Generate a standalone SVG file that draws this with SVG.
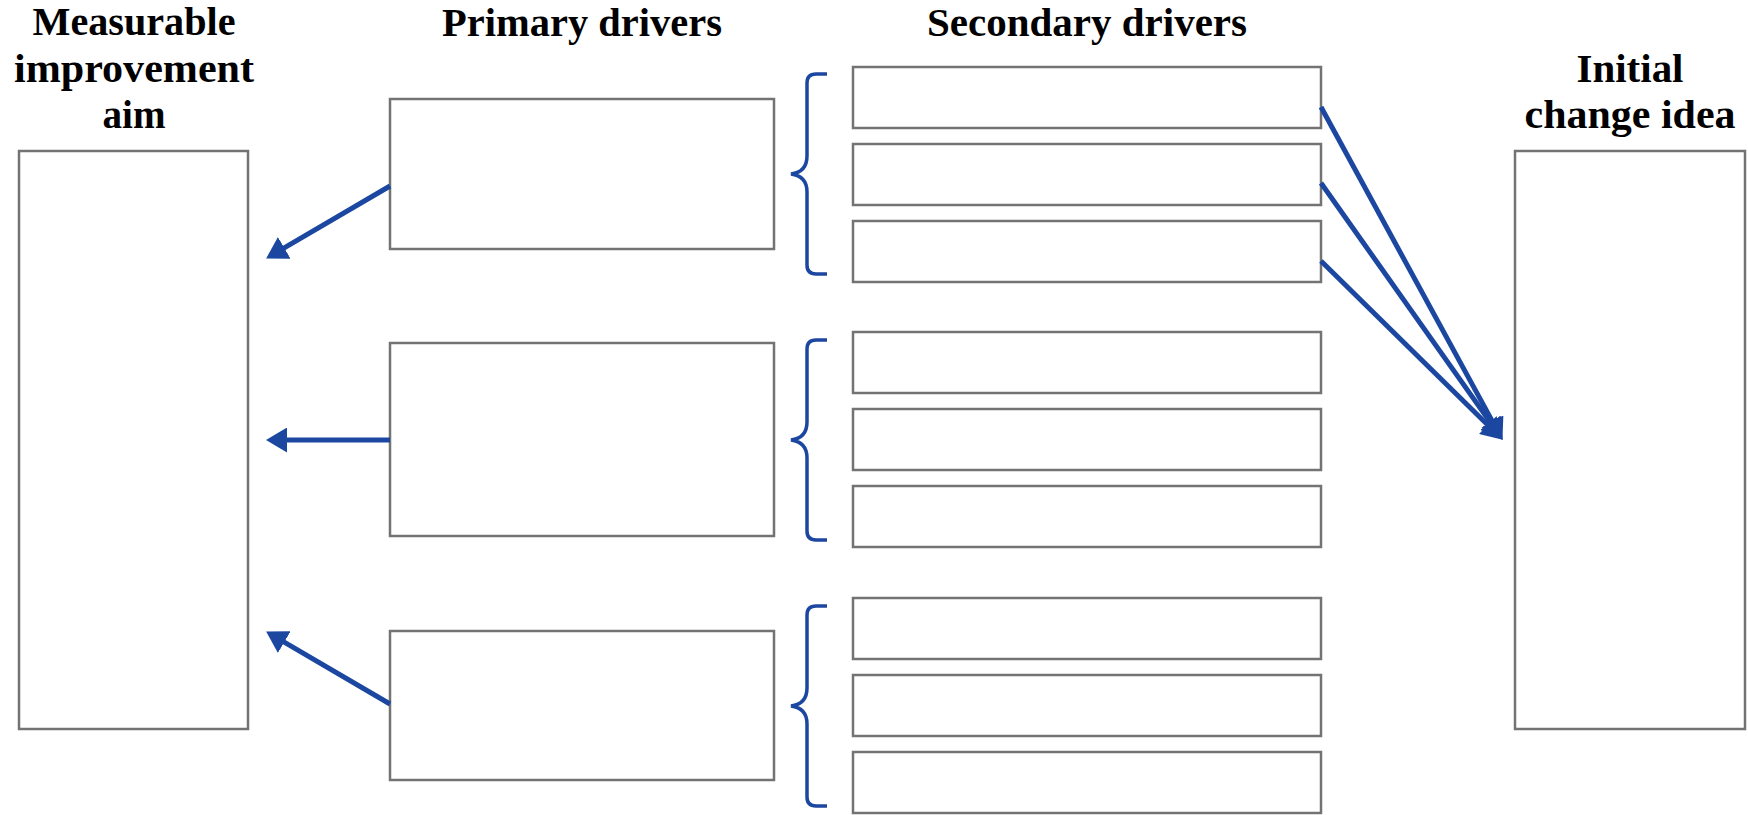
<svg xmlns="http://www.w3.org/2000/svg" width="1748" height="815" viewBox="0 0 1748 815">
<style>
.box{fill:#fff;stroke:#737373;stroke-width:2.5}
.hd{font-family:"Liberation Serif","Times New Roman",serif;font-weight:bold;font-size:41px;fill:#000;text-anchor:middle}
.con{fill:none;stroke:#1C47A0;stroke-width:5}
.brace{fill:none;stroke:#1C47A0;stroke-width:3.5}
</style>
<defs>
<marker id="ah" markerUnits="userSpaceOnUse" markerWidth="21" markerHeight="25" viewBox="0 0 21 25" refX="4" refY="12.5" orient="auto">
<path d="M0,0 L21,12.5 L0,25 z" fill="#1C47A0"/>
</marker>
</defs>
<g id="headings">
<text class="hd" x="134" y="35" textLength="203" lengthAdjust="spacingAndGlyphs">Measurable</text>
<text class="hd" x="134" y="82" textLength="240" lengthAdjust="spacingAndGlyphs">improvement</text>
<text class="hd" x="134" y="128" textLength="63" lengthAdjust="spacingAndGlyphs">aim</text>
<text class="hd" x="582" y="36" textLength="280" lengthAdjust="spacingAndGlyphs">Primary drivers</text>
<text class="hd" x="1087" y="36" textLength="320" lengthAdjust="spacingAndGlyphs">Secondary drivers</text>
<text class="hd" x="1630" y="82" textLength="107" lengthAdjust="spacingAndGlyphs">Initial</text>
<text class="hd" x="1630" y="128" textLength="211" lengthAdjust="spacingAndGlyphs">change idea</text>
</g>
<g id="aim"><rect class="box" x="19" y="151" width="229" height="578"/></g>
<g id="change"><rect class="box" x="1515" y="151" width="230" height="578"/></g>
<g id="primary1"><rect class="box" x="390" y="99" width="384" height="150"/></g>
<g id="primary2"><rect class="box" x="390" y="343" width="384" height="193"/></g>
<g id="primary3"><rect class="box" x="390" y="631" width="384" height="149"/></g>
<g id="secondary1"><rect class="box" x="853" y="67" width="468" height="61"/></g>
<g id="secondary2"><rect class="box" x="853" y="144" width="468" height="61"/></g>
<g id="secondary3"><rect class="box" x="853" y="221" width="468" height="61"/></g>
<g id="secondary4"><rect class="box" x="853" y="332" width="468" height="61"/></g>
<g id="secondary5"><rect class="box" x="853" y="409" width="468" height="61"/></g>
<g id="secondary6"><rect class="box" x="853" y="486" width="468" height="61"/></g>
<g id="secondary7"><rect class="box" x="853" y="598" width="468" height="61"/></g>
<g id="secondary8"><rect class="box" x="853" y="675" width="468" height="61"/></g>
<g id="secondary9"><rect class="box" x="853" y="752" width="468" height="61"/></g>
<g id="connectors">
<path class="brace" d="M827,74 H816 Q807,74 807,83 V156 Q807,172 791,174 Q807,176 807,192 V265 Q807,274 816,274 H827"/>
<path class="brace" d="M827,340 H816 Q807,340 807,349 V422 Q807,438 791,440 Q807,442 807,458 V531 Q807,540 816,540 H827"/>
<path class="brace" d="M827,606 H816 Q807,606 807,615 V688 Q807,704 791,706 Q807,708 807,724 V797 Q807,806 816,806 H827"/>
<line class="con" x1="390" y1="186" x2="280.8" y2="249.9" marker-end="url(#ah)"/>
<line class="con" x1="390" y1="440" x2="283" y2="440" marker-end="url(#ah)"/>
<line class="con" x1="390" y1="704" x2="280.8" y2="640.1" marker-end="url(#ah)"/>
<line class="con" x1="1321" y1="107" x2="1494.3" y2="424.9" marker-end="url(#ah)"/>
<line class="con" x1="1321" y1="183" x2="1492.8" y2="425.9" marker-end="url(#ah)"/>
<line class="con" x1="1321" y1="261" x2="1490.6" y2="427.8" marker-end="url(#ah)"/>
</g>
</svg>
